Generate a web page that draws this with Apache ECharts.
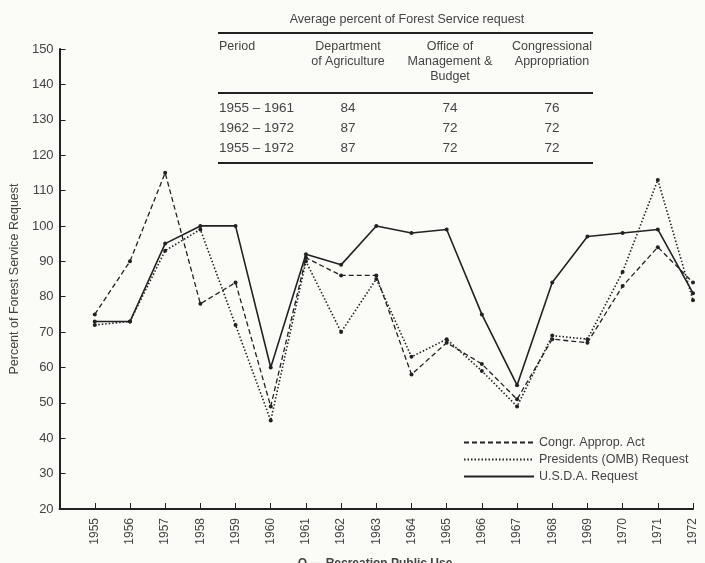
<!DOCTYPE html>
<html>
<head>
<meta charset="utf-8">
<script src="https://cdn.jsdelivr.net/npm/echarts@6/dist/echarts.min.js"></script>
<style>
  html, body { margin: 0; padding: 0; background: #fbfbf8; }
  #ForestChart { width: 705px; height: 563px; }
</style>
</head>
<body>
<div id="ForestChart"></div>
<script>
// years on the x axis
var years = [1955, 1956, 1957, 1958, 1959, 1960, 1961, 1962, 1963,
             1964, 1965, 1966, 1967, 1968, 1969, 1970, 1971, 1972];
// percent of Forest Service request
var congrAct   = [75, 90, 115, 78, 84, 49, 91, 86, 86, 58, 67, 61, 51, 68, 67, 83, 94, 84];
var ombRequest = [72, 73, 93, 99, 72, 45, 90, 70, 85, 63, 68, 59, 49, 69, 68, 87, 113, 79];
var usdaRequest= [73, 73, 95, 100, 100, 60, 92, 89, 100, 98, 99, 75, 55, 84, 97, 98, 99, 81];

// table: average percent of Forest Service request
var periods    = ['1955 – 1961', '1962 – 1972', '1955 – 1972'];
var deptAvg    = [84, 87, 87];
var ombAvg     = [74, 72, 72];
var congAvg    = [76, 72, 72];

(function(){
	var dom = document.getElementById("ForestChart");
	var chart = echarts.init(dom);
	var ink = '#222';
	var txt = '#444';

	function pairs(arr){
		return arr.map(function(v, i){ return [years[i], v]; });
	}

	/*********** table drawn on top of the plot ***********/
	var tbl = [];
	var colX = [348, 450, 552];
	function t(x, y, s, align, size){
		tbl.push({type:'text', x:x, y:y, z:10,
			style:{text:s, fill:txt, font:(size||12.5)+'px "Liberation Sans", Arial, sans-serif',
				align:align||'left', verticalAlign:'middle'}});
	}
	function rule(y, w){
		tbl.push({type:'line', z:10, shape:{x1:218, y1:y, x2:593, y2:y},
			style:{stroke:ink, lineWidth:w||2}});
	}
	t(407, 20, 'Average percent of Forest Service request', 'center', 12.5);
	rule(33);
	t(219, 47, 'Period');
	t(colX[0], 47, 'Department', 'center');
	t(colX[0], 62, 'of Agriculture', 'center');
	t(colX[1], 47, 'Office of', 'center');
	t(colX[1], 62, 'Management &', 'center');
	t(colX[1], 77, 'Budget', 'center');
	t(colX[2], 47, 'Congressional', 'center');
	t(colX[2], 62, 'Appropriation', 'center');
	rule(93);
	var rowY = [108, 128, 148];
	for(var i = 0; i < periods.length; i++){
		t(219, rowY[i], periods[i], 'left', 13.5);
		t(colX[0], rowY[i], String(deptAvg[i]), 'center', 13.5);
		t(colX[1], rowY[i], String(ombAvg[i]), 'center', 13.5);
		t(colX[2], rowY[i], String(congAvg[i]), 'center', 13.5);
	}
	rule(163);

	var option = {
		backgroundColor: '#fbfbf8',
		animation: false,
		textStyle: {fontFamily: '"Liberation Sans", Arial, sans-serif'},
		title: {
			text: 'O — Recreation Public Use',
			left: 370, textAlign: 'center',
			top: 553,
			textStyle: {fontSize: 12, fontWeight: 'bold', color: txt}
		},
		legend: {
			orient: 'vertical',
			left: 458, top: 431,
			itemWidth: 70, itemHeight: 10, itemGap: 4,
			textStyle: {fontSize: 12.5, color: txt},
			itemStyle: {opacity: 0},
			data: ['Congr. Approp. Act', 'Presidents (OMB) Request', 'U.S.D.A. Request']
		},
		grid: {left: 58, right: 12, top: 49, bottom: 54},
		xAxis: {
			type: 'value',
			min: 1954, max: 1972, interval: 1,
			axisLine: {lineStyle: {color: ink, width: 2}},
			axisTick: {inside: true, length: 6, lineStyle: {color: ink}},
			axisLabel: {
				rotate: 90, fontSize: 12, color: txt, margin: 9,
				formatter: function(v){ return v === 1954 ? '' : String(v); }
			},
			splitLine: {show: false}
		},
		yAxis: {
			type: 'value',
			min: 20, max: 150, interval: 10,
			name: 'Percent of Forest Service Request',
			nameLocation: 'middle', nameGap: 32,
			nameTextStyle: {fontSize: 12.5, color: txt},
			axisLine: {show: true, lineStyle: {color: ink, width: 2}},
			axisTick: {inside: true, length: 6, lineStyle: {color: ink}},
			axisLabel: {fontSize: 13, color: txt, margin: 6},
			splitLine: {show: false}
		},
		graphic: tbl,
		series: [
			{
				name: 'Congr. Approp. Act', type: 'line',
				data: pairs(congrAct),
				symbol: 'circle', symbolSize: 4,
				itemStyle: {color: ink},
				lineStyle: {color: ink, width: 1.3, type: [5, 3]}
			},
			{
				name: 'Presidents (OMB) Request', type: 'line',
				data: pairs(ombRequest),
				symbol: 'circle', symbolSize: 4,
				itemStyle: {color: ink},
				lineStyle: {color: ink, width: 1.6, type: [1.5, 2]}
			},
			{
				name: 'U.S.D.A. Request', type: 'line',
				data: pairs(usdaRequest),
				symbol: 'circle', symbolSize: 4,
				itemStyle: {color: ink},
				lineStyle: {color: ink, width: 1.6}
			}
		]
	};
	chart.setOption(option);
})();
</script>
</body>
</html>
